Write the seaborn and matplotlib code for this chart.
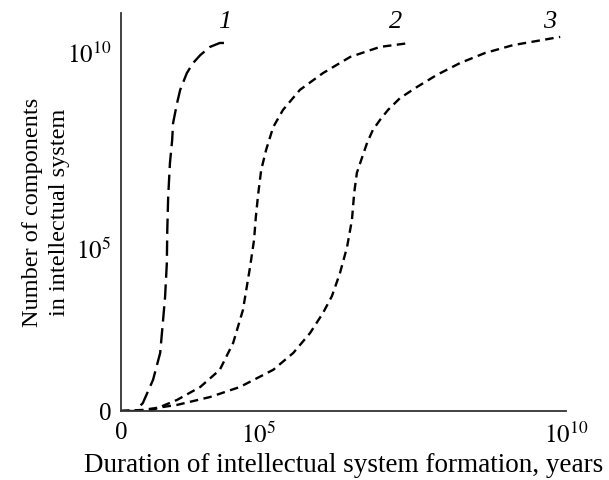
import numpy as np
import pandas as pd
import matplotlib
matplotlib.use("Agg")
import matplotlib.pyplot as plt
import seaborn as sns

# Schematic axes: x and y are in "position units" (0..10), ticks labelled 0, 10^5, 10^10
x_ticks = [0, 3.08, 10]
x_ticklabels = ['0', '$10^{5}$', '$10^{10}$']
y_ticks = [0, 4.53, 10]
y_ticklabels = ['0', '$10^{5}$', '$10^{10}$']

curve1_x = [0, 0.31, 0.49, 0.72, 0.88, 0.94, 0.99, 1.03, 1.04, 1.06, 1.10, 1.15, 1.17, 1.26,
            1.33, 1.48, 1.62, 1.78, 2.00, 2.22, 2.38]
curve1_y = [0, 0, 0.22, 0.87, 1.62, 2.46, 3.18, 4.13, 5.06, 5.98, 6.93, 7.57, 8.04, 8.60,
            8.97, 9.44, 9.72, 9.94, 10.17, 10.28, 10.28]

curve2_x = [0, 0.72, 1.26, 1.78, 2.22, 2.52, 2.74, 2.90, 2.99, 3.03, 3.08, 3.15, 3.26, 3.42,
            3.64, 4.02, 4.54, 5.15, 5.82, 6.49]
curve2_y = [0, 0.03, 0.31, 0.67, 1.15, 1.90, 2.82, 4.02, 4.78, 5.42, 6.03, 6.73, 7.29, 7.93,
            8.41, 8.97, 9.44, 9.89, 10.17, 10.28]

curve3_x = [0, 0.49, 1.26, 2.00, 2.67, 3.42, 3.87, 4.25, 4.54, 4.74, 4.92, 5.08, 5.19, 5.24,
            5.30, 5.42, 5.53, 5.66, 5.82, 6.00, 6.27, 6.65, 7.10, 7.62, 8.18, 8.81, 9.87]
curve3_y = [0, 0.03, 0.17, 0.39, 0.67, 1.15, 1.62, 2.18, 2.74, 3.21, 3.85, 4.58, 5.34, 6.09,
            6.65, 7.09, 7.49, 7.85, 8.13, 8.41, 8.74, 9.05, 9.39, 9.72, 10.00, 10.22, 10.45]

curve_names = ['1', '2', '3']
label_x = [2.34, 6.16, 9.64]

df = pd.concat([
    pd.DataFrame({'x': curve1_x, 'y': curve1_y, 'curve': '1'}),
    pd.DataFrame({'x': curve2_x, 'y': curve2_y, 'curve': '2'}),
    pd.DataFrame({'x': curve3_x, 'y': curve3_y, 'curve': '3'}),
])

sns.set_theme(style='white')
plt.rcParams['font.family'] = ['Liberation Serif', 'DejaVu Serif']
plt.rcParams['mathtext.fontset'] = 'stix'
plt.rcParams['text.color'] = 'black'
plt.rcParams['axes.labelcolor'] = 'black'

fig = plt.figure(figsize=(6.09, 4.8), dpi=100)
ax = fig.add_axes([121 / 609, 69 / 480, 445 / 609, 398 / 480])

sns.lineplot(data=df, x='x', y='y', style='curve', color='black',
             dashes={'1': (6.5, 2.8), '2': (3.6, 2.3), '3': (3.6, 2.3)},
             estimator=None, sort=False, legend=False, linewidth=1.7, ax=ax)

# curve labels
for name, lx in zip(curve_names, label_x):
    ax.text(lx, 10.87, name, fontsize=19, style='italic', ha='center', va='center')

ax.set_xlim(0, 10)
ax.set_ylim(0, 398 / 35.8)
ax.set_xticks(x_ticks)
ax.set_xticklabels(x_ticklabels)
ax.set_yticks(y_ticks)
ax.set_yticklabels(y_ticklabels)
ax.tick_params(axis='both', direction='in', length=6, width=1.2, colors='#333333',
               labelsize=18, labelcolor='black')
ax.tick_params(axis='x', pad=8)
ax.tick_params(axis='y', pad=7)

sns.despine(ax=ax)
for s in ['left', 'bottom']:
    ax.spines[s].set_color('#333333')
    ax.spines[s].set_linewidth(1.3)

ax.set_xlabel('Duration of intellectual system formation, years', fontsize=19.5, labelpad=4)
ax.set_ylabel('Number of components\nin intellectual system', fontsize=17.5, labelpad=-2,
              linespacing=1.35)

fig.savefig('out.png', dpi=100)
